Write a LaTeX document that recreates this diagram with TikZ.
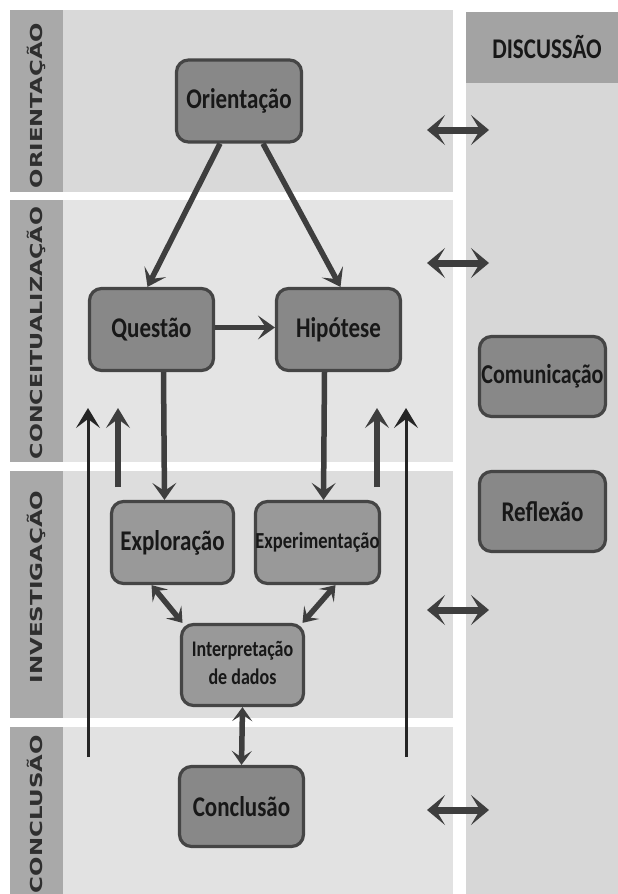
\documentclass[tikz,border=0pt]{standalone}
\usepackage{fontspec}
\usepackage{graphicx}
\setmainfont{Carlito}
\newfontfamily\labfont{DejaVu Sans}
\usetikzlibrary{arrows.meta}
\definecolor{stripc}{HTML}{A9A9A9}
\definecolor{bandA}{HTML}{D9D9D9}
\definecolor{bandB}{HTML}{E4E4E4}
\definecolor{bandC}{HTML}{DDDDDD}
\definecolor{bandD}{HTML}{E2E2E2}
\definecolor{rightc}{HTML}{D7D7D7}
\definecolor{headc}{HTML}{A3A3A3}
\definecolor{nodeA}{HTML}{888888}
\definecolor{nodeB}{HTML}{999999}
\definecolor{edgec}{HTML}{454545}
\definecolor{arrc}{HTML}{3E3E3E}
\definecolor{txtc}{HTML}{181818}
\newcommand\nt[1]{\scalebox{1}[1.24]{#1}}
\tikzset{
  boxA/.style={draw=edgec, line width=3.2pt, fill=nodeA, rounded corners=12pt,
    minimum width=125pt, minimum height=82pt, inner sep=0pt, text=txtc,
    font=\bfseries\fontsize{23}{27}\selectfont},
  boxB/.style={boxA, fill=nodeB},
  arr/.style={draw=arrc, line width=5.5pt, -{Stealth[length=17pt,width=24pt,inset=8pt]}},
  darr/.style={draw=arrc, line width=5.5pt,
    {Stealth[length=14pt,width=20pt,inset=6.5pt]}-{Stealth[length=14pt,width=20pt,inset=6.5pt]}},
  uparr/.style={draw=arrc!60!black, line width=3pt, -{Stealth[length=20pt,width=24pt,inset=9pt]}},
  uparrB/.style={draw=arrc, line width=5.5pt, -{Stealth[length=20pt,width=24pt,inset=9pt]}},
  harr/.style={draw=arrc, line width=7pt,
    {Stealth[length=18pt,width=30pt,inset=9pt]}-{Stealth[length=18pt,width=30pt,inset=9pt]}},
  lab/.style={rotate=90, anchor=base, inner sep=0pt, text=txtc!90!white}
}
\begin{document}
\begin{tikzpicture}[x=1pt,y=-1pt]
\useasboundingbox (0,0) rectangle (618,894);
\fill[white] (0,0) rectangle (618,894);
% left strips
\fill[stripc] (10,10) rectangle (63,192);
\fill[stripc] (10,200) rectangle (63,462);
\fill[stripc] (10,471) rectangle (63,718);
\fill[stripc] (10,727) rectangle (63,894);
% bands
\fill[bandA] (63,10) rectangle (453,192);
\fill[bandB] (63,200) rectangle (453,462);
\fill[bandC] (63,471) rectangle (453,718);
\fill[bandD] (63,727) rectangle (453,894);
% right column
\fill[rightc] (466,12) rectangle (618,894);
\fill[headc] (466,12) rectangle (618,83);
\node[text=txtc, font=\bfseries\fontsize{23}{27}\selectfont] (disc) at (547,47) {\nt{DISCUSSÃO}};
% band labels
\node[lab] (lo) at (42.5,105.5) {\resizebox{165pt}{\height}{\labfont\bfseries\fontsize{16.5}{17}\selectfont ORIENTAÇÃO}};
\node[lab] (lc) at (42.5,333) {\resizebox{252pt}{\height}{\labfont\bfseries\fontsize{16.5}{17}\selectfont CONCEITUALIZAÇÃO}};
\node[lab] (li) at (42.5,587) {\resizebox{193pt}{\height}{\labfont\bfseries\fontsize{16.5}{17}\selectfont INVESTIGAÇÃO}};
\node[lab] (lz) at (42.5,814) {\resizebox{158pt}{\height}{\labfont\bfseries\fontsize{16.5}{17}\selectfont CONCLUSÃO}};
% nodes
\node[boxA, minimum width=125pt] (or) at (239,101) {\nt{Orientação}};
\node[boxA, minimum width=124pt, minimum height=82pt] (q) at (151.5,329.5) {\nt{Questão}};
\node[boxA, minimum width=124pt, minimum height=82pt] (h) at (338.5,329.5) {\nt{Hipótese}};
\node[boxB, minimum width=122pt, minimum height=82pt] (ex) at (172.5,542.5) {\nt{Exploração}};
\node[boxB, minimum width=122pt, minimum height=82pt, font=\bfseries\fontsize{18.5}{22}\selectfont] (exp) at (317.5,542.5) {\nt{Experimentação}};
\node[boxB, minimum width=122pt, minimum height=81pt] (int) at (242.5,665) {\nt{\fontsize{18}{23}\selectfont\begin{tabular}{@{}c@{}}Interpretação\\de dados\end{tabular}}};
\node[boxA, minimum width=124pt, minimum height=80pt] (con) at (241.5,806.5) {\nt{Conclusão}};
\node[boxA, minimum width=126pt, minimum height=80pt, font=\bfseries\fontsize{22}{26}\selectfont] (com) at (542.5,376.5) {\nt{Comunicação}};
\node[boxA, minimum width=126pt, minimum height=80pt] (ref) at (542.5,511.5) {\nt{Reflexão}};
% connectors
\draw[arr] ([xshift=-19pt]or.south) -- ([xshift=-4pt]q.north);
\draw[arr] ([xshift=24pt]or.south) -- ([xshift=2pt]h.north);
\draw[arr] ([yshift=2pt]q.east) -- ([yshift=2pt]h.west);
\draw[arr] ([xshift=12pt]q.south) -- ([xshift=-8pt]ex.north);
\draw[arr] ([xshift=-14pt]h.south) -- ([xshift=6pt]exp.north);
\draw[darr] ([xshift=-21pt]ex.south) -- ([xshift=-60pt]int.north);
\draw[darr] ([xshift=18pt]exp.south) -- ([xshift=60pt]int.north);
\draw[darr] (int.south) -- (con.north);
% feedback arrows
\coordinate (a1s) at (88,757); \coordinate (a1e) at (88,408);
\coordinate (a2s) at (118,487); \coordinate (a2e) at (118,408);
\coordinate (a3s) at (377,487); \coordinate (a3e) at (377,408);
\coordinate (a4s) at (406,757); \coordinate (a4e) at (406,408);
\draw[uparr] (a1s) -- (a1e);
\draw[uparrB] (a2s) -- (a2e);
\draw[uparrB] (a3s) -- (a3e);
\draw[uparr] (a4s) -- (a4e);
% discussion arrows
\foreach \i/\yy in {1/130,2/263,3/610,4/810}{
  \coordinate (d\i l) at (427,\yy);
  \coordinate (d\i r) at (489,\yy);
  \draw[harr] (d\i l) -- (d\i r);
}
\end{tikzpicture}
\end{document}
